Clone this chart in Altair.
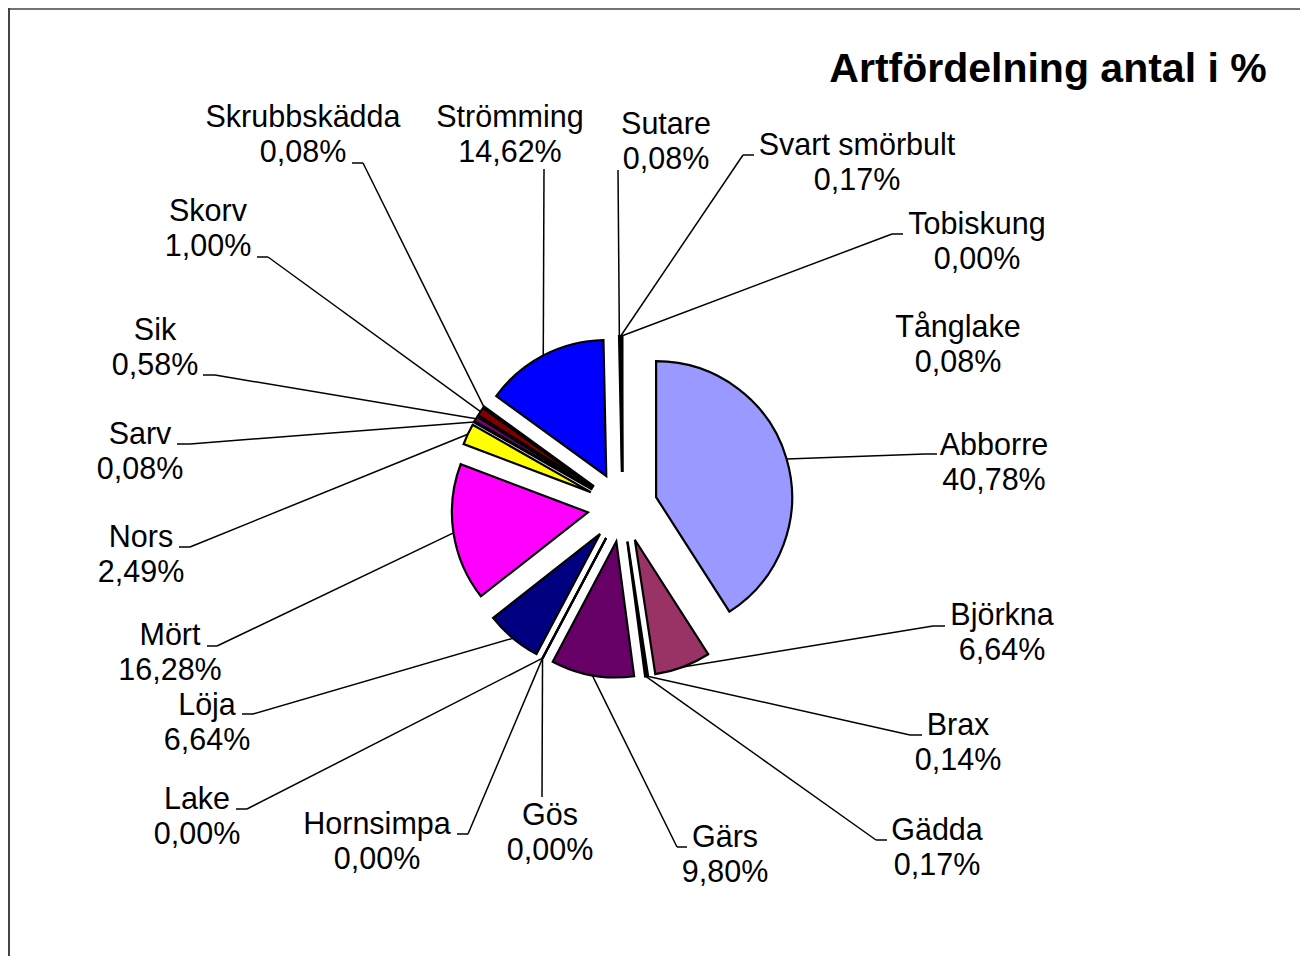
import altair as alt
import pandas as pd

# ---- data ----
species = ["Abborre", "Björkna", "Brax", "Gädda", "Gärs", "Gös", "Hornsimpa", "Lake",
           "Löja", "Mört", "Nors", "Sarv", "Sik", "Skorv", "Skrubbskädda", "Strömming",
           "Sutare", "Svart smörbult", "Tobiskung", "Tånglake"]
share = [40.78, 6.64, 0.14, 0.17, 9.80, 0.00, 0.00, 0.00,
         6.64, 16.28, 2.49, 0.08, 0.58, 1.00, 0.08, 14.62,
         0.08, 0.17, 0.00, 0.08]
colors = ["#9999FF", "#993366", "#FFFFCC", "#CCFFFF", "#660066", "#FF8080", "#0066CC", "#CCCCFF",
          "#000080", "#FF00FF", "#FFFF00", "#00FFFF", "#800080", "#800000", "#008080", "#0000FF",
          "#00CCFF", "#CCFFFF", "#CCFFCC", "#FFFF99"]
title_text = "Artfördelning antal i %"

# ---- layout (page pixel coordinates of labels / leader anchors) ----
label_x = [994, 1002, 958, 937, 725, 550, 377, 197, 207, 170, 141, 140, 155, 208, 303, 510, 666, 857, 977, 958]
label_y = [455, 625, 735, 840, 847, 825, 834, 809, 715, 645, 547, 444, 340, 221, 127, 127, 134, 155, 234, 337]
lead_x = [925, 933, 910, 876, 677, 542, 468, 247, 253, 217, 190, 190, 215, 268, 363, 544, 618, 743, 892, None]
lead_y = [454, 626, 735, 840, 847, 797, 834, 809, 714, 646, 547, 444, 375, 257, 163, 169, 170, 155, 234, None]
tick_x = [937, 945, 922, 887, 687, 542, 457, 236, 242, 207, 179, 177, 203, 257, 352, 544, 618, 754, 903, None]

W, H = 1292, 948
CX, CY = 622.5, 507.0
EXPLODE = 35
R = 136

df = pd.DataFrame({
    "order": list(range(len(species))),
    "species": species,
    "share": share,
    "label_x": label_x,
    "label_y": label_y,
    "lead_x": lead_x,
    "lead_y": lead_y,
    "tick_x": tick_x,
})

xs = alt.Scale(domain=[8, 8 + W], nice=False, zero=False)
ys = alt.Scale(domain=[8, 8 + H], reverse=True, nice=False, zero=False)

base = (
    alt.Chart(df)
    .transform_joinaggregate(total="sum(share)")
    .transform_window(cum="sum(share)", sort=[{"field": "order"}], frame=[None, 0])
    .transform_calculate(a0="2*PI*(datum.cum - datum.share)/datum.total")
    .transform_calculate(a1="2*PI*datum.cum/datum.total")
    .transform_calculate(am="(datum.a0 + datum.a1)/2")
    .transform_calculate(cx=f"{CX} + {EXPLODE}*sin(datum.am)")
    .transform_calculate(cy=f"{CY} - {EXPLODE}*cos(datum.am)")
    .transform_calculate(sx=f"{CX} + {EXPLODE + R}*sin(datum.am)")
    .transform_calculate(sy=f"{CY} - {EXPLODE + R}*cos(datum.am)")
    .transform_calculate(label="[datum.species, replace(format(datum.share, '.2f'), '.', ',') + '%']")
)

arcs = base.mark_arc(radius=R, stroke="black", strokeWidth=2.2).encode(
    x=alt.X("cx:Q", scale=xs, axis=None),
    y=alt.Y("cy:Q", scale=ys, axis=None),
    theta=alt.Theta("a0:Q", scale=None, stack=False),
    theta2="a1:Q",
    color=alt.Color("species:N", scale=alt.Scale(domain=species, range=colors), legend=None),
)

leaders = base.transform_filter("isValid(datum.lead_x)").mark_rule(color="black", strokeWidth=1.5).encode(
    x=alt.X("sx:Q", scale=xs, axis=None),
    y=alt.Y("sy:Q", scale=ys, axis=None),
    x2="lead_x:Q",
    y2="lead_y:Q",
)

ticks = base.transform_filter("isValid(datum.lead_x)").mark_rule(color="black", strokeWidth=1.5).encode(
    x=alt.X("lead_x:Q", scale=xs, axis=None),
    y=alt.Y("lead_y:Q", scale=ys, axis=None),
    x2="tick_x:Q",
    y2="lead_y:Q",
)

labels = base.mark_text(
    font="Liberation Sans", fontSize=30.5, align="center", baseline="alphabetic",
    lineHeight=35, color="black"
).encode(
    x=alt.X("label_x:Q", scale=xs, axis=None),
    y=alt.Y("label_y:Q", scale=ys, axis=None),
    text="label:N",
)

title = alt.Chart(pd.DataFrame({"t": [title_text]})).mark_text(
    font="Liberation Sans", fontSize=41, fontWeight="bold", align="center",
    baseline="alphabetic", color="black"
).encode(x=alt.value(1048 - 8), y=alt.value(82 - 8), text="t:N")

border_top = alt.Chart(pd.DataFrame({"a": [0]})).mark_rule(color="#444444", strokeWidth=1.5).encode(
    x=alt.value(0), x2=alt.value(W), y=alt.value(1)
)
border_left = alt.Chart(pd.DataFrame({"a": [0]})).mark_rule(color="#444444", strokeWidth=2).encode(
    x=alt.value(1), y=alt.value(0), y2=alt.value(H)
)

chart = (
    alt.layer(arcs, leaders, ticks, labels, title, border_top, border_left)
    .properties(width=W, height=H, padding=0, autosize="none", background="white")
    .configure_view(stroke=None)
)

chart.save("out.html", embed_options={"renderer": "svg", "actions": False})
